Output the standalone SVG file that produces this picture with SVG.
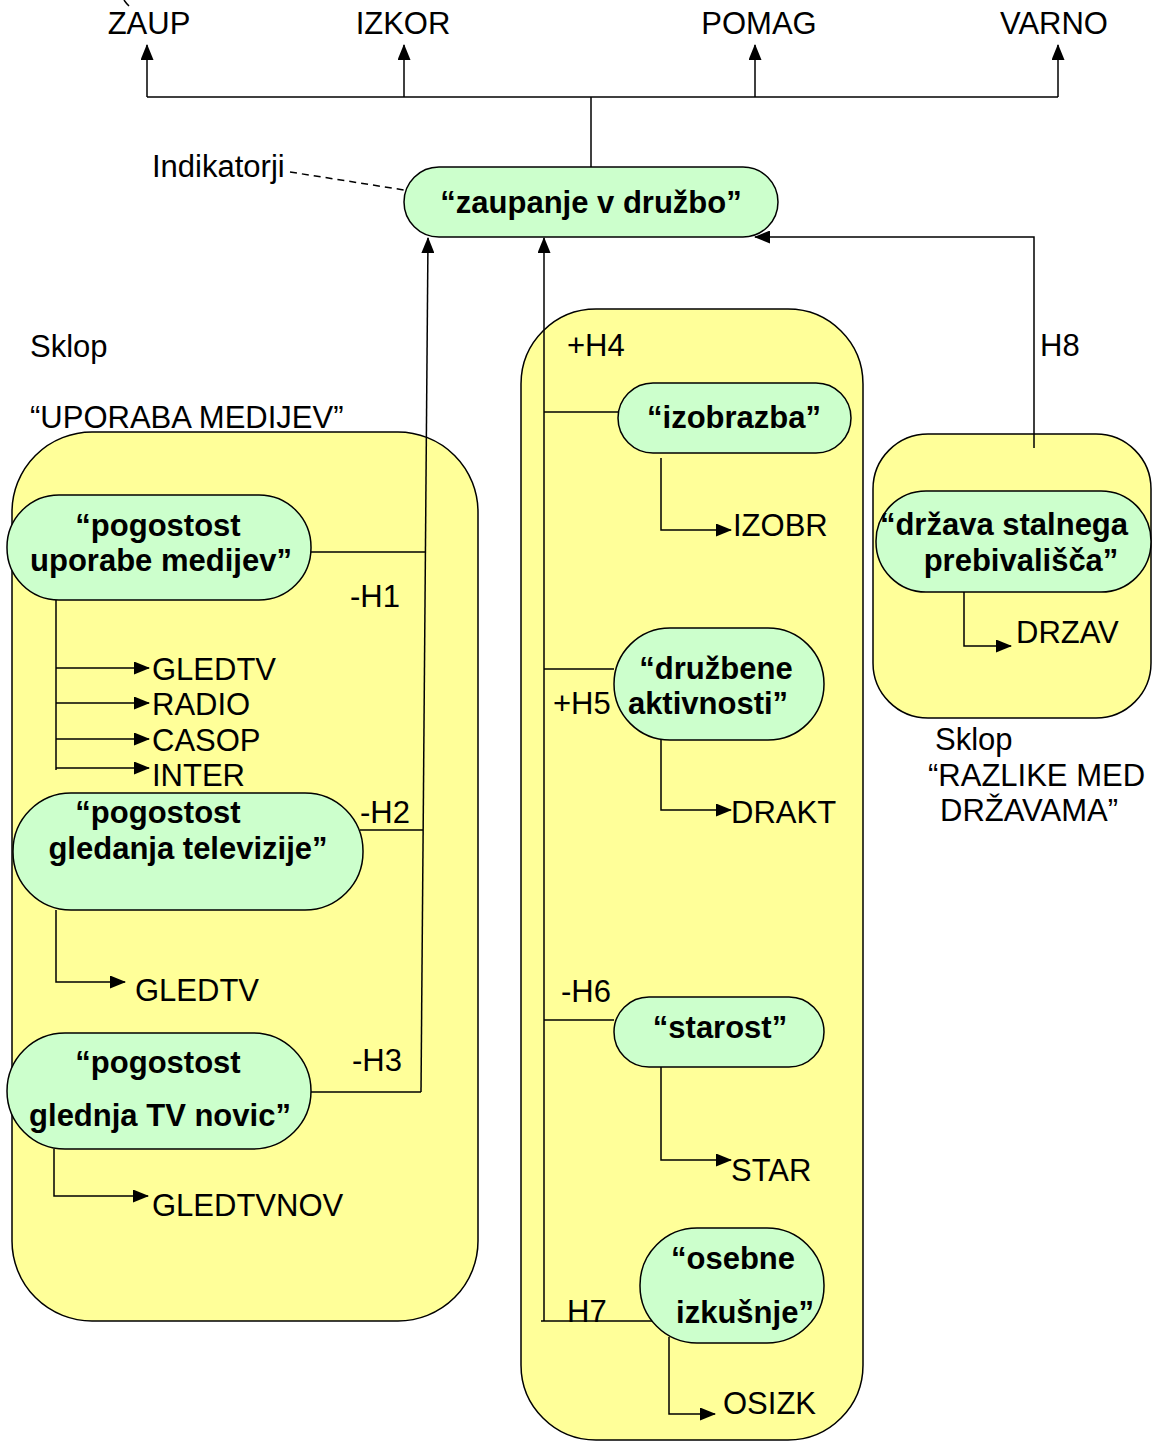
<svg xmlns="http://www.w3.org/2000/svg" width="1156" height="1442" viewBox="0 0 1156 1442">
<style>
text{font-family:"Liberation Sans",Arial,sans-serif;fill:#000}
.t{font-size:31px}
.b{font-size:31px;font-weight:bold;text-anchor:middle}
.grp{fill:#FFFF99;stroke:#000;stroke-width:1.5}
.nd{fill:#CCFFCC;stroke:#000;stroke-width:1.5}
.ln{fill:none;stroke:#000;stroke-width:1.5}
.ar{fill:none;stroke:#000;stroke-width:1.5;marker-end:url(#ah)}
</style>
<defs>
<marker id="ah" markerWidth="16" markerHeight="13" refX="15" refY="6.5" orient="auto" markerUnits="userSpaceOnUse"><path d="M0,0 L16,6.5 L0,13 z" fill="#000"/></marker>
</defs>
<rect width="1156" height="1442" fill="#fff"/>

<g id="group-mediji">
<rect class="grp" x="12" y="432" width="466" height="889" rx="80"/>
<text class="t" x="30" y="357">Sklop</text>
<text class="t" x="30" y="428">“UPORABA MEDIJEV”</text>
</g>
<g id="group-middle">
<rect class="grp" x="521" y="309" width="342" height="1131" rx="75"/>
</g>
<g id="group-drzave">
<rect class="grp" x="873" y="434" width="278" height="284" rx="55"/>
<text class="t" x="935" y="750">Sklop</text>
<text class="t" x="928" y="786">“RAZLIKE MED</text>
<text class="t" x="940" y="821">DRŽAVAMA”</text>
</g>

<g id="connectors">
<path class="ln" d="M124,0 Q126,3 129,6"/>
<path class="ln" d="M147,97 H1058"/>
<path class="ar" d="M147,97 V45"/>
<path class="ar" d="M404,97 V45"/>
<path class="ar" d="M755,97 V45"/>
<path class="ar" d="M1058,97 V45"/>
<path class="ln" d="M591,97 V167"/>
<path class="ln" d="M290,172 L404,190" stroke-dasharray="7,5"/>
<path class="ar" d="M421,1092 L428,238"/>
<path class="ln" d="M311,552 H425"/>
<path class="ln" d="M360,830 H423"/>
<path class="ln" d="M311,1092 H421"/>
<path class="ar" d="M544,1321 V238"/>
<path class="ln" d="M544,412 H618"/>
<path class="ln" d="M544,669 H614"/>
<path class="ln" d="M544,1020 H614"/>
<path class="ln" d="M541,1321 H655"/>
<path class="ar" d="M1034,448 V237 H755"/>
<path class="ln" d="M56,600 V770"/>
<path class="ar" d="M56,668 H149"/>
<path class="ar" d="M56,703 H149"/>
<path class="ar" d="M56,739 H149"/>
<path class="ar" d="M56,768 H149"/>
<path class="ar" d="M56,910 V982 H125"/>
<path class="ar" d="M54,1149 V1196 H148"/>
<path class="ar" d="M661,458 V530 H731"/>
<path class="ar" d="M661,740 V810 H731"/>
<path class="ar" d="M661,1067 V1160 H731"/>
<path class="ar" d="M669,1337 V1414 H715"/>
<path class="ar" d="M964,590 V646 H1011"/>
</g>

<g id="indicators">
<text class="t" x="149" y="34" text-anchor="middle">ZAUP</text>
<text class="t" x="403" y="34" text-anchor="middle">IZKOR</text>
<text class="t" x="759" y="34" text-anchor="middle">POMAG</text>
<text class="t" x="1054" y="34" text-anchor="middle">VARNO</text>
<text class="t" x="152" y="177">Indikatorji</text>
<text class="t" x="152" y="680">GLEDTV</text>
<text class="t" x="152" y="715">RADIO</text>
<text class="t" x="152" y="751">CASOP</text>
<text class="t" x="152" y="786">INTER</text>
<text class="t" x="135" y="1001">GLEDTV</text>
<text class="t" x="152" y="1216">GLEDTVNOV</text>
<text class="t" x="733" y="536">IZOBR</text>
<text class="t" x="731" y="823">DRAKT</text>
<text class="t" x="731" y="1181">STAR</text>
<text class="t" x="723" y="1414">OSIZK</text>
<text class="t" x="1016" y="643">DRZAV</text>
</g>

<g id="labels">
<text class="t" x="350" y="607">-H1</text>
<text class="t" x="360" y="823">-H2</text>
<text class="t" x="352" y="1071">-H3</text>
<text class="t" x="567" y="356">+H4</text>
<text class="t" x="553" y="714">+H5</text>
<text class="t" x="561" y="1002">-H6</text>
<text class="t" x="567" y="1322">H7</text>
<text class="t" x="1040" y="356">H8</text>
</g>

<g id="node-zaupanje">
<rect class="nd" x="404" y="167" width="374" height="70" rx="35"/>
<text class="b" x="591" y="213">“zaupanje v družbo”</text>
</g>
<g id="node-uporaba">
<rect class="nd" x="7" y="495" width="304" height="105" rx="52"/>
<text class="b" x="158" y="536">“pogostost</text>
<text class="b" x="161" y="571">uporabe medijev”</text>
</g>
<g id="node-televizija">
<rect class="nd" x="13" y="793" width="350" height="117" rx="58"/>
<text class="b" x="158" y="823">“pogostost</text>
<text class="b" x="188" y="859">gledanja televizije”</text>
</g>
<g id="node-novice">
<rect class="nd" x="7" y="1033" width="304" height="116" rx="58"/>
<text class="b" x="158" y="1073">“pogostost</text>
<text class="b" x="160" y="1126">glednja TV novic”</text>
</g>
<g id="node-izobrazba">
<rect class="nd" x="618" y="383" width="233" height="70" rx="35"/>
<text class="b" x="734" y="428">“izobrazba”</text>
</g>
<g id="node-druzbene">
<rect class="nd" x="614" y="628" width="210" height="112" rx="56"/>
<text class="b" x="716" y="679">“družbene</text>
<text class="b" x="708" y="714">aktivnosti”</text>
</g>
<g id="node-starost">
<rect class="nd" x="614" y="997" width="210" height="70" rx="35"/>
<text class="b" x="720" y="1038">“starost”</text>
</g>
<g id="node-osebne">
<rect class="nd" x="640" y="1228" width="184" height="115" rx="57"/>
<text class="b" x="733" y="1269">“osebne</text>
<text class="b" x="745" y="1323">izkušnje”</text>
</g>
<g id="node-drzava">
<rect class="nd" x="876" y="491" width="275" height="101" rx="50"/>
<text class="b" x="1004" y="535">“država stalnega</text>
<text class="b" x="1021" y="571">prebivališča”</text>
</g>
</svg>
